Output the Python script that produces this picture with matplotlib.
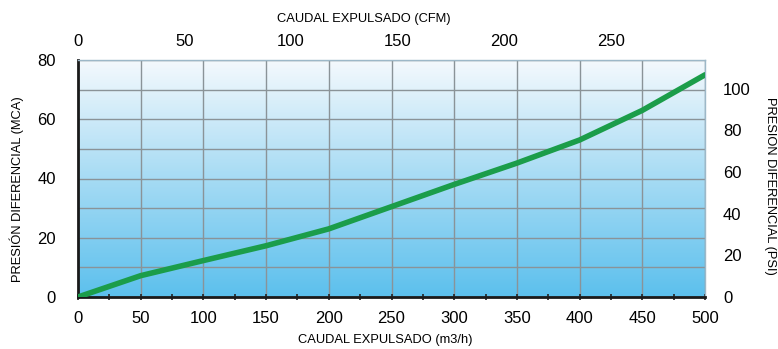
import numpy as np
import matplotlib
matplotlib.use("Agg")
import matplotlib.pyplot as plt
from matplotlib.colors import LinearSegmentedColormap
from matplotlib.ticker import MultipleLocator

plt.rcParams["font.family"] = ["Liberation Sans", "DejaVu Sans"]

# ── Data ─────────────────────────────────────────────────────────────────────
caudal_m3h = [0, 50, 100, 150, 200, 250, 300, 350, 400, 450, 500]
presion_mca = [0, 7.2, 12.3, 17.3, 23.0, 30.5, 38.0, 45.2, 53.0, 63.0, 75.0]

cfm_ticks = [0, 50, 100, 150, 200, 250]
psi_ticks = [0, 20, 40, 60, 80, 100]

M3H_PER_CFM = 1.699
MCA_PER_PSI = 0.703

# ── Figure ───────────────────────────────────────────────────────────────────
fig = plt.figure(figsize=(7.78, 3.49), dpi=100)
ax = fig.add_axes([78 / 778, 1 - 297 / 349, 627 / 778, 237 / 349])

cmap = LinearSegmentedColormap.from_list(
    "bg", ["#5cc0ed", "#a6dbf4", "#f4f9fd"])
grad = np.linspace(0, 1, 256).reshape(-1, 1)
ax.imshow(grad, cmap=cmap, aspect="auto", origin="lower",
          extent=[0, 500, 0, 80], zorder=0)

ax.plot(caudal_m3h, presion_mca, color="#1b9d4a", lw=4.0,
        solid_capstyle="round", zorder=3)

ax.set_xlim(0, 500)
ax.set_ylim(0, 80)
ax.xaxis.set_major_locator(MultipleLocator(50))
ax.xaxis.set_minor_locator(MultipleLocator(25))
ax.yaxis.set_major_locator(MultipleLocator(20))
ax.yaxis.set_minor_locator(MultipleLocator(10))

ax.grid(True, which="major", axis="x", color="#8a9398", lw=1.0)
ax.grid(True, which="both", axis="y", color="#8a9398", lw=1.0)
for ln in ax.get_xgridlines() + ax.get_ygridlines():
    ln.set_zorder(1)

ax.tick_params(axis="x", which="both", direction="inout", length=4,
               width=1.2, color="#222222", labelsize=12, pad=8)
ax.tick_params(axis="y", which="both", length=0, labelsize=12, pad=16)

ax.spines["left"].set_linewidth(2.0)
ax.spines["bottom"].set_linewidth(2.0)
ax.spines["left"].set_color("#1a1a1a")
ax.spines["bottom"].set_color("#1a1a1a")
for s in ("top", "right"):
    ax.spines[s].set_color("#9db8c8")
    ax.spines[s].set_linewidth(1.0)

# ── Secondary axes ──────────────────────────────────────────────────────────
top = ax.secondary_xaxis("top", functions=(lambda x: x / M3H_PER_CFM,
                                            lambda c: c * M3H_PER_CFM))
top.set_xticks(cfm_ticks)
top.tick_params(length=0, labelsize=12, pad=8)
top.spines["top"].set_visible(False)

right = ax.secondary_yaxis("right", functions=(lambda y: y / MCA_PER_PSI,
                                                lambda p: p * MCA_PER_PSI))
right.set_yticks(psi_ticks)
right.tick_params(length=0, labelsize=12, pad=13)
right.spines["right"].set_visible(False)

# ── Axis titles ─────────────────────────────────────────────────────────────
fig.text(385 / 778, 1 - 340 / 349, "CAUDAL EXPULSADO (m3/h)",
         ha="center", va="center", fontsize=9.3)
fig.text(364 / 778, 1 - 19 / 349, "CAUDAL EXPULSADO (CFM)",
         ha="center", va="center", fontsize=9.3)
fig.text(17 / 778, 1 - 189 / 349, "PRESIÓN DIFERENCIAL (MCA)",
         ha="center", va="center", rotation=90, fontsize=9.3)
fig.text(770 / 778, 1 - 186 / 349, "PRESION DIFERENCIAL (PSI)",
         ha="center", va="center", rotation=-90, fontsize=9.3)

fig.savefig("out.png", dpi=100)
